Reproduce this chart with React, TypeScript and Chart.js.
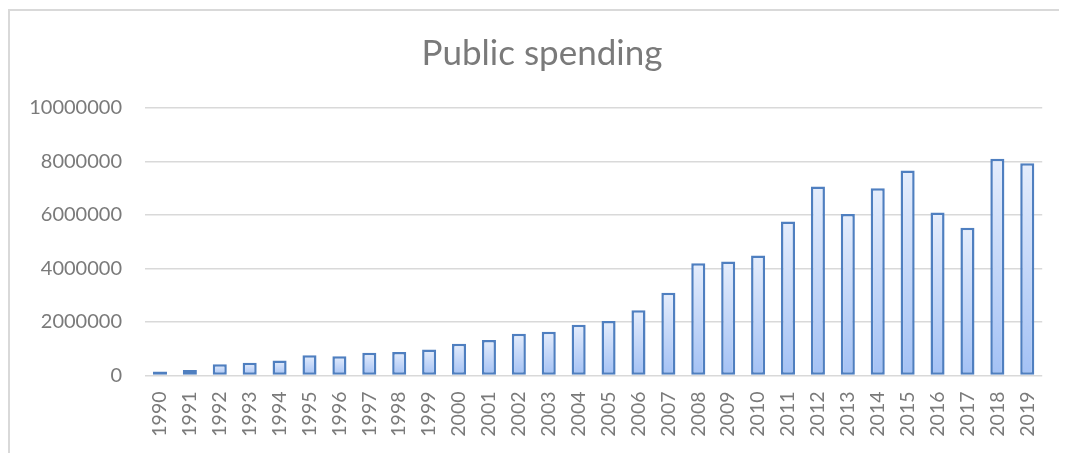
import React, { useEffect, useRef } from "react";
import { Chart, registerables } from "chart.js";

Chart.register(...registerables);

const years: string[] = [
  "1990", "1991", "1992", "1993", "1994", "1995", "1996", "1997", "1998", "1999",
  "2000", "2001", "2002", "2003", "2004", "2005", "2006", "2007", "2008", "2009",
  "2010", "2011", "2012", "2013", "2014", "2015", "2016", "2017", "2018", "2019",
];

const spending: number[] = [
  150000, 210000, 420000, 475000, 560000, 760000, 720000, 850000, 880000, 970000,
  1190000, 1330000, 1560000, 1640000, 1900000, 2040000, 2440000, 3090000, 4200000, 4260000,
  4490000, 5760000, 7070000, 6040000, 7000000, 7660000, 6090000, 5520000, 8100000, 7930000,
];

const titleText = "Public spending";
const yMin = 0;
const yMax = 10000000;
const yStep = 2000000;

const W = 1057;
const H = 442;

const titleShift = {
  id: "titleShift",
  afterLayout(chart: any) {
    const t = chart.titleBlock;
    if (t) t.left = t.left + 27;
  },
};

export default function App() {
  const ref = useRef<HTMLCanvasElement | null>(null);

  useEffect(() => {
    if (!ref.current) return;
    const font = "Lato, 'Open Sans', sans-serif";
    const chart = new Chart(ref.current, {
      type: "bar",
      data: {
        labels: years,
        datasets: [
          {
            label: titleText,
            data: spending,
            backgroundColor: (ctx: any) => {
              const c = ctx.chart;
              const area = c.chartArea;
              if (!area || ctx.type !== "data") return "#c4d7f9";
              const y = c.scales.y;
              const top = y.getPixelForValue(ctx.raw);
              const bottom = y.getPixelForValue(0);
              if (!(bottom > top)) return "#c4d7f9";
              const g = c.ctx.createLinearGradient(0, top, 0, bottom);
              g.addColorStop(0, "#e5edfc");
              g.addColorStop(1, "#a3c1f5");
              return g;
            },
            borderColor: "#4f7fc0",
            borderWidth: 2.5,
            borderSkipped: false,
            barPercentage: 0.47,
            categoryPercentage: 1,
          },
        ],
      },
      plugins: [titleShift],
      options: {
        responsive: false,
        animation: false,
        layout: { padding: { left: 0, right: 20, top: 0, bottom: 0 } },
        plugins: {
          legend: { display: false },
          tooltip: { enabled: false },
          title: {
            display: true,
            text: titleText,
            color: "#7a7a7a",
            font: { family: font, size: 35, weight: "normal" as any, lineHeight: 1.2 },
            padding: { top: 22, bottom: 33 },
          },
        },
        scales: {
          x: {
            grid: { display: false, drawTicks: false },
            border: { display: false },
            ticks: {
              minRotation: 90,
              maxRotation: 90,
              autoSkip: false,
              padding: 16,
              color: "#7a7a7a",
              font: { family: font, size: 19.5 },
            },
            afterFit: (s: any) => {
              s.height = 77.5;
            },
          },
          y: {
            min: yMin,
            max: yMax,
            grid: { color: "#d9d9d9", lineWidth: 1.5, drawTicks: false },
            border: { display: false },
            ticks: {
              stepSize: yStep,
              padding: 23,
              color: "#7a7a7a",
              font: { family: font, size: 20 },
              callback: (v: any) => String(v),
            },
            afterFit: (s: any) => {
              s.width = 135;
            },
          },
        },
      },
    });
    return () => chart.destroy();
  }, []);

  return (
    <div
      style={{
        marginTop: 1,
        borderTop: "2px solid #d9d9d9",
        borderLeft: "2px solid #d9d9d9",
        width: W,
        height: H,
      }}
    >
      <canvas ref={ref} width={W} height={H} style={{ display: "block" }} />
    </div>
  );
}
